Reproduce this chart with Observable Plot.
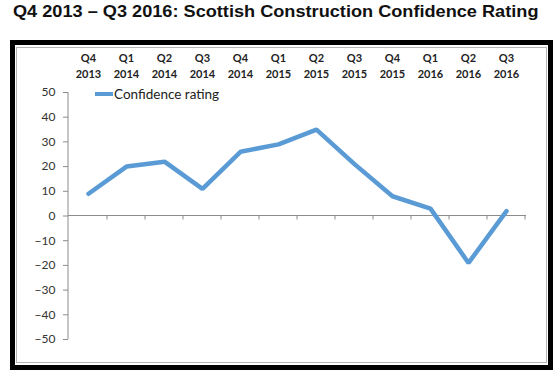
<!DOCTYPE html>
<html>
<head>
<meta charset="utf-8">
<script src="https://cdn.jsdelivr.net/npm/d3@7"></script>
<script src="https://cdn.jsdelivr.net/npm/@observablehq/plot@0.6"></script>
<style>
  html, body { margin: 0; padding: 0; background: #fff; }
  #page { position: relative; width: 560px; height: 381px; overflow: hidden; background: #fff; }
  #title { position: absolute; left: 13px; top: 3px; font: bold 16.5px "Liberation Sans", Arial, sans-serif; line-height: 1; color: #111; white-space: nowrap; transform: scaleX(1.1); transform-origin: 0 0; }
  #chart { position: absolute; left: 0; top: 0; }
  #frame { position: absolute; left: 10px; top: 40px; width: 543px; height: 330px; box-sizing: border-box; border: 5px solid #000; pointer-events: none; }
  #inner { position: absolute; left: 1px; top: 2px; right: 1px; bottom: 2px; border: 1px solid #b4b4b4; }
  #legend { position: absolute; left: 95px; top: 86px; display: flex; align-items: center; font: 13.5px Lato, sans-serif; color: #222; }
  #legend .sw { width: 18px; height: 4px; background: #5B9BD5; margin-right: 1px; }
</style>
</head>
<body>
<div id="page">
  <div id="title">Q4 2013 – Q3 2016: Scottish Construction Confidence Rating</div>
  <div id="chart"></div>
  <div id="legend"><span class="sw"></span><span id="legend-label"></span></div>
  <div id="frame"><div id="inner"></div></div>
</div>
<script>
const quarters = ["Q4", "Q1", "Q2", "Q3", "Q4", "Q1", "Q2", "Q3", "Q4", "Q1", "Q2", "Q3"];
const years = ["2013", "2014", "2014", "2014", "2014", "2015", "2015", "2015", "2015", "2016", "2016", "2016"];
const confidence = [9, 20, 22, 11, 26, 29, 35, 21, 8, 3, -19, 2];
const yTicks = [-50, -40, -30, -20, -10, 0, 10, 20, 30, 40, 50];
const seriesName = "Confidence rating";

document.getElementById("legend-label").textContent = seriesName;

const labels = quarters.map((q, i) => q + "\n" + years[i]);
const data = labels.map((label, i) => ({label, value: confidence[i]}));

// y axis line, zero line and ticks between categories, derived from the scales
const axisLines = (index, scales, values, dims) => {
  const g = d3.create("svg:g");
  const x = scales.x, y = scales.y;
  const step = x(labels[1]) - x(labels[0]);
  const y0 = y(0);
  g.append("line")
    .attr("x1", dims.marginLeft).attr("x2", dims.marginLeft)
    .attr("y1", y(yTicks[yTicks.length - 1])).attr("y2", y(yTicks[0]))
    .attr("stroke", "#8c8c8c");
  g.append("line")
    .attr("x1", dims.marginLeft).attr("x2", dims.width - dims.marginRight)
    .attr("y1", y0).attr("y2", y0)
    .attr("stroke", "#8c8c8c");
  labels.forEach((l) => {
    const xb = x(l) + step / 2;
    g.append("line")
      .attr("x1", xb).attr("x2", xb)
      .attr("y1", y0).attr("y2", y0 + 4)
      .attr("stroke", "#8c8c8c");
  });
  return g.node();
};

const chart = Plot.plot({
  width: 560,
  height: 381,
  marginLeft: 68,
  marginRight: 34,
  marginTop: 92,
  marginBottom: 42,
  style: {background: "transparent", fontFamily: "Lato, sans-serif"},
  x: {type: "point", domain: labels, padding: 0.5},
  y: {domain: [-50, 50]},
  marks: [
    Plot.axisY(yTicks, {tickSize: 5, tickPadding: 8, fontSize: 12, fill: "#333", stroke: "#8c8c8c", label: null}),
    Plot.axisX({anchor: "top", tickSize: 0, tickPadding: 15, fontSize: 11, fontWeight: "bold", fill: "#222", lineHeight: 1.42, label: null}),
    axisLines,
    Plot.lineY(data, {x: "label", y: "value", stroke: "#5B9BD5", strokeWidth: 4.5, strokeLinejoin: "miter", strokeLinecap: "round"})
  ]
});
document.getElementById("chart").appendChild(chart);
</script>
</body>
</html>
